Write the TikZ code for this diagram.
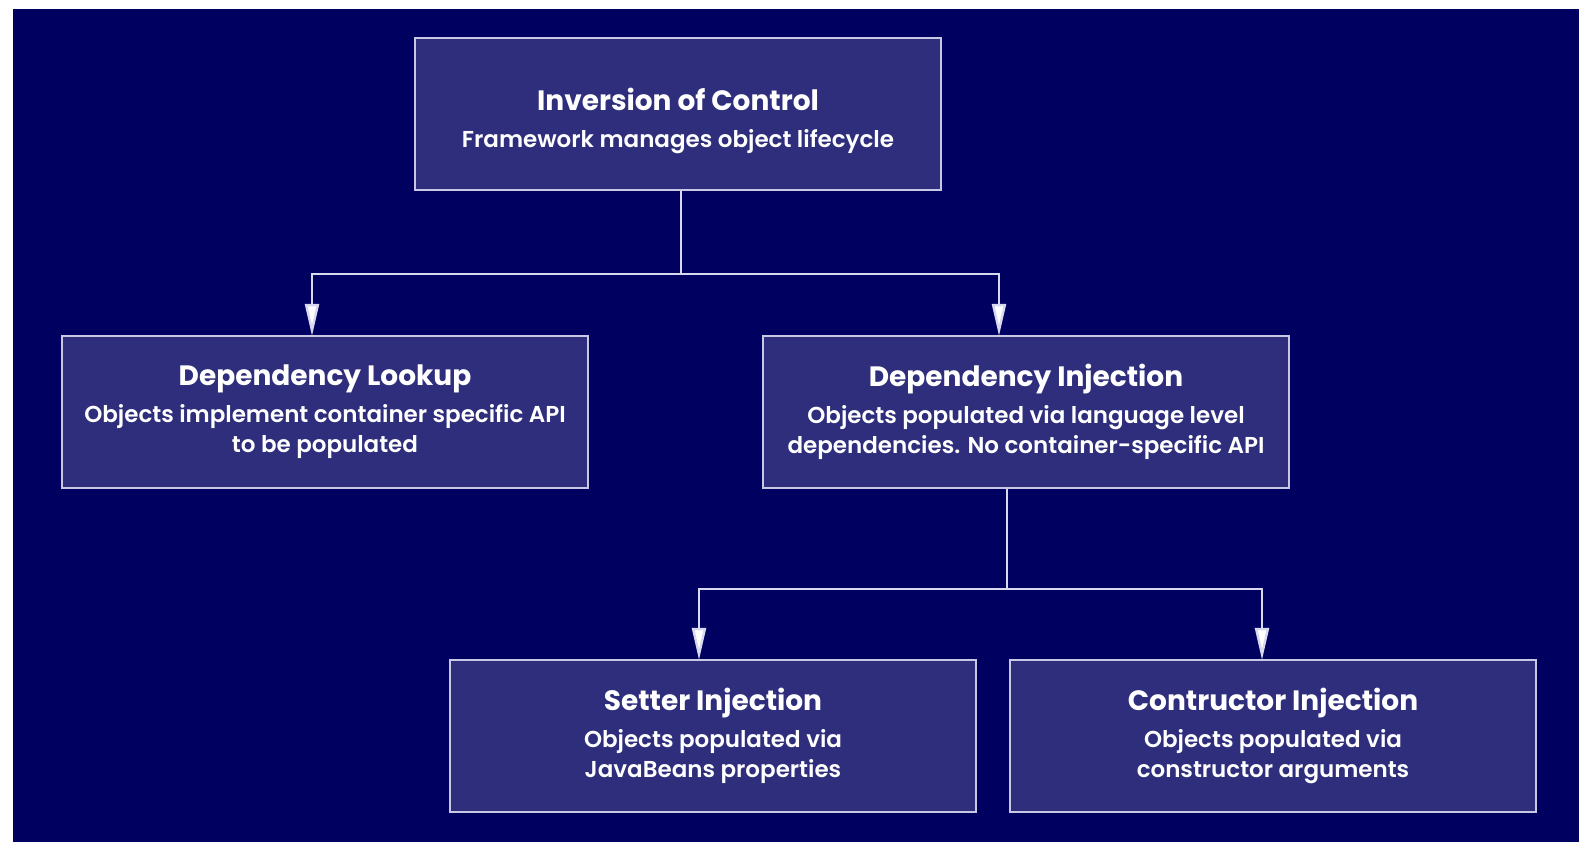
\documentclass[tikz,border=0pt]{standalone}
\usepackage{fontspec}
\setmainfont{Poppins}[UprightFont=* SemiBold,BoldFont=* Bold]
\usetikzlibrary{arrows.meta}
\definecolor{navy}{HTML}{000060}
\definecolor{boxfill}{HTML}{2E2E7C}
\definecolor{boxline}{HTML}{C8C8E6}
\definecolor{wire}{HTML}{D8D8EE}
\tikzset{
  box/.style={draw=boxline, line width=2.2pt, fill=boxfill, text=white,
    minimum width=526pt, minimum height=152pt, inner sep=0pt,
    align=center, font=\fontsize{23}{30}\selectfont},
  wirestyle/.style={draw=wire, line width=2.4pt},
  arrowline/.style={wirestyle, -{Triangle[length=32pt,width=14pt,fill=white]}, shorten >=-1pt},
}
\newcommand{\boxtitle}[1]{{\fontsize{28}{38}\selectfont\bfseries #1}\\[7pt]}
\begin{document}
\begin{tikzpicture}[x=1pt,y=-1pt]
  \useasboundingbox (0,0) rectangle (1579,842);
  \fill[white] (0,0) rectangle (1579,842);
  \fill[navy] (13,9) rectangle (1579,842);

  \node[box] (ioc) at (678,114) {\rule{0pt}{36pt}\boxtitle{Inversion of Control}Framework manages object lifecycle};
  \node[box] (dl) at (325,412) {\boxtitle{Dependency Lookup}Objects implement container specific API\\to be populated};
  \node[box] (di) at (1026,412) {\boxtitle{Dependency Injection}Objects populated via language level\\dependencies. No container-specific API};
  \node[box] (si) at (713,736) {\boxtitle{Setter Injection}Objects populated via\\JavaBeans properties};
  \node[box] (ci) at (1273,736) {\boxtitle{Contructor Injection}Objects populated via\\constructor arguments};

  % branch points of the connector trees
  \coordinate (iocout) at (681,0);
  \coordinate (bar1) at (681,274);
  \coordinate (dlin) at (312,0);
  \coordinate (diin) at (999,0);
  \coordinate (diout) at (1007,0);
  \coordinate (bar2) at (1007,589);
  \coordinate (siin) at (699,0);
  \coordinate (ciin) at (1262,0);

  \draw[wirestyle] (iocout |- ioc.south) -- (bar1);
  \draw[arrowline] (bar1) -| (dlin |- dl.north);
  \draw[arrowline] (bar1) -| (diin |- di.north);

  \draw[wirestyle] (diout |- di.south) -- (bar2);
  \draw[arrowline] (bar2) -| (siin |- si.north);
  \draw[arrowline] (bar2) -| (ciin |- ci.north);
\end{tikzpicture}
\end{document}
